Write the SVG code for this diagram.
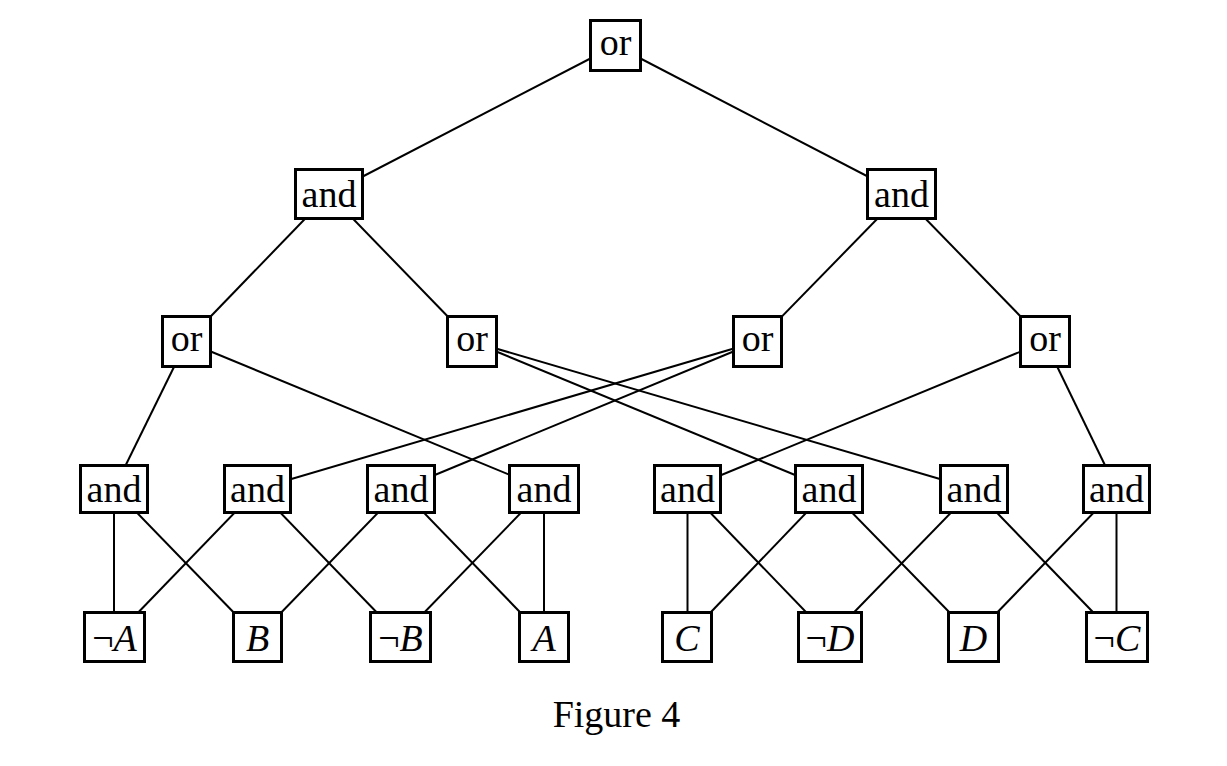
<svg xmlns="http://www.w3.org/2000/svg" width="1227" height="766" viewBox="0 0 1227 766">
  <style>
    .box { fill: #fff; stroke: #000; stroke-width: 3; }
    .lbl { font-family: "Liberation Serif", "Times New Roman", serif; font-size: 38px; fill: #000; text-anchor: middle; }
    .it { font-style: italic; }
    .edge { stroke: #000; stroke-width: 2; fill: none; }
  </style>
  <rect width="1227" height="766" fill="#fff"/>

  <!-- connectors: drawn centre to centre, boxes are painted over them -->
  <g id="connectors" class="edge">
    <line x1="615.5" y1="45.5" x2="329" y2="194"/>
    <line x1="615.5" y1="45.5" x2="901.5" y2="194"/>
    <line x1="329" y1="194" x2="186.5" y2="341.5"/>
    <line x1="329" y1="194" x2="472" y2="341.5"/>
    <line x1="901.5" y1="194" x2="757.5" y2="341.5"/>
    <line x1="901.5" y1="194" x2="1045" y2="341.5"/>
    <line x1="186.5" y1="341.5" x2="114" y2="489"/>
    <line x1="186.5" y1="341.5" x2="544" y2="489"/>
    <line x1="472" y1="341.5" x2="829" y2="489"/>
    <line x1="472" y1="341.5" x2="974" y2="489"/>
    <line x1="757.5" y1="341.5" x2="257.5" y2="489"/>
    <line x1="757.5" y1="341.5" x2="401" y2="489"/>
    <line x1="1045" y1="341.5" x2="687.5" y2="489"/>
    <line x1="1045" y1="341.5" x2="1116.5" y2="489"/>
    <line x1="114" y1="489" x2="114" y2="637"/>
    <line x1="114" y1="489" x2="257.5" y2="637"/>
    <line x1="257.5" y1="489" x2="114.5" y2="637"/>
    <line x1="257.5" y1="489" x2="400.5" y2="637"/>
    <line x1="401" y1="489" x2="257.5" y2="637"/>
    <line x1="401" y1="489" x2="544" y2="637"/>
    <line x1="544" y1="489" x2="400.5" y2="637"/>
    <line x1="544" y1="489" x2="544" y2="637"/>
    <line x1="687.5" y1="489" x2="687.5" y2="637"/>
    <line x1="687.5" y1="489" x2="830" y2="637"/>
    <line x1="829" y1="489" x2="687" y2="637"/>
    <line x1="829" y1="489" x2="973.5" y2="637"/>
    <line x1="974" y1="489" x2="830" y2="637"/>
    <line x1="974" y1="489" x2="1117" y2="637"/>
    <line x1="1116.5" y1="489" x2="973.5" y2="637"/>
    <line x1="1116.5" y1="489" x2="1116.5" y2="637"/>
  </g>

  <!-- root -->
  <g id="or0"><rect class="box" x="590.5" y="20.5" width="50" height="50"/><text class="lbl" x="615.5" y="55">or</text></g>

  <!-- level 1 -->
  <g id="and1L"><rect class="box" x="295.5" y="169.5" width="67" height="49"/><text class="lbl" x="329" y="206.5">and</text></g>
  <g id="and1R"><rect class="box" x="867.5" y="169.5" width="68" height="49"/><text class="lbl" x="901.5" y="206.5">and</text></g>

  <!-- level 2 -->
  <g id="or2a"><rect class="box" x="162.5" y="316.5" width="48" height="50"/><text class="lbl" x="186.5" y="351">or</text></g>
  <g id="or2b"><rect class="box" x="447.5" y="316.5" width="49" height="50"/><text class="lbl" x="472" y="351">or</text></g>
  <g id="or2c"><rect class="box" x="733.5" y="316.5" width="48" height="50"/><text class="lbl" x="757.5" y="351">or</text></g>
  <g id="or2d"><rect class="box" x="1020.5" y="316.5" width="49" height="50"/><text class="lbl" x="1045" y="351">or</text></g>

  <!-- level 3 -->
  <g id="and3a"><rect class="box" x="80.5" y="465.5" width="67" height="47"/><text class="lbl" x="114" y="502">and</text></g>
  <g id="and3b"><rect class="box" x="224.5" y="465.5" width="66" height="47"/><text class="lbl" x="257.5" y="502">and</text></g>
  <g id="and3c"><rect class="box" x="367.5" y="465.5" width="67" height="47"/><text class="lbl" x="401" y="502">and</text></g>
  <g id="and3d"><rect class="box" x="509.5" y="465.5" width="69" height="47"/><text class="lbl" x="544" y="502">and</text></g>
  <g id="and3e"><rect class="box" x="654.5" y="465.5" width="66" height="47"/><text class="lbl" x="687.5" y="502">and</text></g>
  <g id="and3f"><rect class="box" x="795.5" y="465.5" width="67" height="47"/><text class="lbl" x="829" y="502">and</text></g>
  <g id="and3g"><rect class="box" x="940.5" y="465.5" width="67" height="47"/><text class="lbl" x="974" y="502">and</text></g>
  <g id="and3h"><rect class="box" x="1083.5" y="465.5" width="66" height="47"/><text class="lbl" x="1116.5" y="502">and</text></g>

  <!-- literals -->
  <g id="notA"><rect class="box" x="84.5" y="612.5" width="60" height="49"/><text class="lbl" x="114.5" y="650.5">¬<tspan class="it">A</tspan></text></g>
  <g id="B"><rect class="box" x="233.5" y="612.5" width="48" height="49"/><text class="lbl it" x="257.5" y="650.5">B</text></g>
  <g id="notB"><rect class="box" x="370.5" y="612.5" width="60" height="49"/><text class="lbl" x="400.5" y="650.5">¬<tspan class="it">B</tspan></text></g>
  <g id="A"><rect class="box" x="519.5" y="612.5" width="49" height="49"/><text class="lbl it" x="544" y="650.5">A</text></g>
  <g id="C"><rect class="box" x="662.5" y="612.5" width="49" height="49"/><text class="lbl it" x="687" y="650.5">C</text></g>
  <g id="notD"><rect class="box" x="798.5" y="612.5" width="63" height="49"/><text class="lbl" x="830" y="650.5">¬<tspan class="it">D</tspan></text></g>
  <g id="D"><rect class="box" x="948.5" y="612.5" width="50" height="49"/><text class="lbl it" x="973.5" y="650.5">D</text></g>
  <g id="notC"><rect class="box" x="1086.5" y="612.5" width="61" height="49"/><text class="lbl" x="1117" y="650.5">¬<tspan class="it">C</tspan></text></g>

  <text class="lbl" x="616.5" y="727">Figure 4</text>
</svg>
